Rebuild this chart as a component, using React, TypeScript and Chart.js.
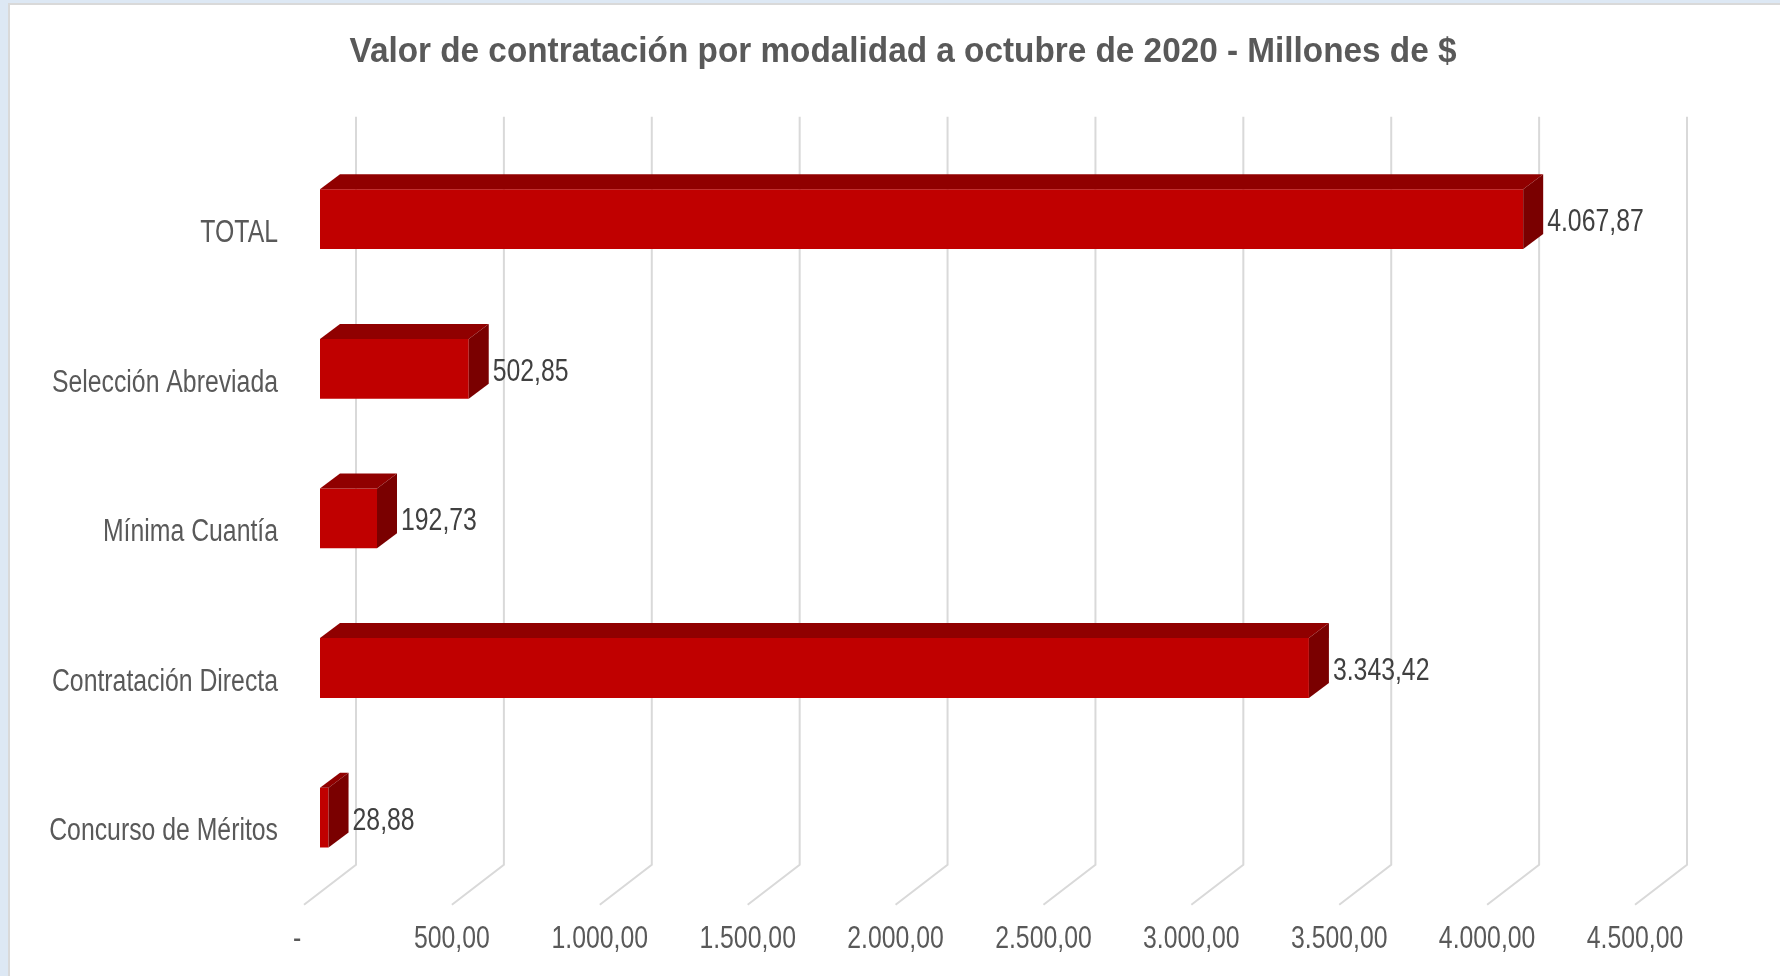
import React, { useEffect, useRef } from "react";
import { Chart, registerables } from "chart.js";

Chart.register(...registerables);

const TITLE = "Valor de contratación por modalidad a octubre de 2020 - Millones de $";
const categories = [
  "TOTAL",
  "Selección Abreviada",
  "Mínima Cuantía",
  "Contratación Directa",
  "Concurso de Méritos",
];
const values = [4067.87, 502.85, 192.73, 3343.42, 28.88];
const tickValues = [0, 500, 1000, 1500, 2000, 2500, 3000, 3500, 4000, 4500];
const tickLabels = [
  "-  ",
  "500,00",
  "1.000,00",
  "1.500,00",
  "2.000,00",
  "2.500,00",
  "3.000,00",
  "3.500,00",
  "4.000,00",
  "4.500,00",
];

const FONT = '"Liberation Sans", Arial, sans-serif';
const NARROW = 0.8; // horizontal squeeze to mimic a narrow typeface
const TEXT_SIZE = 31;
const TITLE_SIZE = 35;
const TITLE_WIDTH = 1107;
const TITLE_CENTER_X = 903;
const TITLE_CENTER_Y = 52;

// oblique depth offsets (pixels)
const DX_BAR = 20;
const DY_BAR = -15;
const DX_BACK = 36;
const DY_BACK = -27.7;
const DX_FRONT = -16;
const DY_FRONT = 12.3;

function fmtEs(v: number): string {
  const fixed = v.toFixed(2);
  const [intPart, dec] = fixed.split(".");
  const grouped = intPart.replace(/\B(?=(\d{3})+(?!\d))/g, ".");
  return grouped + "," + dec;
}

function drawText(
  ctx: CanvasRenderingContext2D,
  text: string,
  x: number,
  y: number,
  align: CanvasTextAlign,
  font: string,
  color: string,
  sx: number
) {
  ctx.save();
  ctx.font = font;
  ctx.fillStyle = color;
  ctx.textAlign = align;
  ctx.textBaseline = "middle";
  ctx.translate(x, y);
  ctx.scale(sx, 1);
  ctx.fillText(text, 0, 0);
  ctx.restore();
}

const threeD = {
  id: "threeD",
  beforeDatasetsDraw(chart: any) {
    const { ctx, chartArea } = chart;
    const x = chart.scales.x;
    ctx.save();
    ctx.strokeStyle = "#d9d9d9";
    ctx.lineWidth = 2;
    for (const v of tickValues) {
      const xf = x.getPixelForValue(v);
      ctx.beginPath();
      ctx.moveTo(xf + DX_BACK, chartArea.top + DY_BACK);
      ctx.lineTo(xf + DX_BACK, chartArea.bottom + DY_BACK);
      ctx.lineTo(xf + DX_FRONT, chartArea.bottom + DY_FRONT);
      ctx.stroke();
    }
    ctx.restore();
  },
  afterDatasetsDraw(chart: any) {
    const { ctx } = chart;
    const meta = chart.getDatasetMeta(0);
    ctx.save();
    meta.data.forEach((bar: any, i: number) => {
      const { x: xr, base, y, height } = bar.getProps(["x", "base", "y", "height"], true);
      const top = y - height / 2;
      const bottom = y + height / 2;
      ctx.fillStyle = "#900000";
      ctx.beginPath();
      ctx.moveTo(base, top);
      ctx.lineTo(base + DX_BAR, top + DY_BAR);
      ctx.lineTo(xr + DX_BAR, top + DY_BAR);
      ctx.lineTo(xr, top);
      ctx.closePath();
      ctx.fill();
      ctx.fillStyle = "#7a0000";
      ctx.beginPath();
      ctx.moveTo(xr, top);
      ctx.lineTo(xr + DX_BAR, top + DY_BAR);
      ctx.lineTo(xr + DX_BAR, bottom + DY_BAR);
      ctx.lineTo(xr, bottom);
      ctx.closePath();
      ctx.fill();
      drawText(ctx, fmtEs(values[i]), xr + 24, y + 3.5, "left", `${TEXT_SIZE}px ${FONT}`, "#404040", NARROW);
    });
    ctx.restore();
  },
  afterDraw(chart: any) {
    const { ctx, chartArea } = chart;
    const xs = chart.scales.x;
    const ys = chart.scales.y;
    const font = `${TEXT_SIZE}px ${FONT}`;
    // category labels (front plane)
    categories.forEach((c, i) => {
      const py = ys.getPixelForValue(i) + DY_FRONT + 2;
      drawText(ctx, c, chartArea.left - 42, py, "right", font, "#595959", NARROW);
    });
    // value axis labels (front floor)
    tickValues.forEach((v, i) => {
      const px = xs.getPixelForValue(v) + DX_FRONT;
      drawText(ctx, tickLabels[i], px, chartArea.bottom + 47.5, "center", font, "#595959", NARROW);
    });
    // title
    const tfont = `bold ${TITLE_SIZE}px ${FONT}`;
    ctx.save();
    ctx.font = tfont;
    const w = ctx.measureText(TITLE).width;
    ctx.restore();
    drawText(ctx, TITLE, TITLE_CENTER_X, TITLE_CENTER_Y, "center", tfont, "#595959", TITLE_WIDTH / w);
  },
};

export default function App() {
  const ref = useRef<HTMLCanvasElement | null>(null);
  useEffect(() => {
    document.body.style.margin = "0";
    const canvas = ref.current;
    if (!canvas) return;
    const chart = new Chart(canvas, {
      type: "bar",
      data: {
        labels: categories,
        datasets: [
          {
            data: values,
            backgroundColor: "#C00000",
            borderWidth: 0,
            barPercentage: 0.4,
            categoryPercentage: 1,
          },
        ],
      },
      options: {
        indexAxis: "y",
        animation: false,
        responsive: false,
        maintainAspectRatio: false,
        devicePixelRatio: 1,
        layout: { padding: { left: 0, right: 129, top: 144.4, bottom: 0 } },
        plugins: {
          legend: { display: false },
          tooltip: { enabled: false },
          title: { display: false },
        },
        scales: {
          x: {
            type: "linear",
            min: 0,
            max: 4500,
            afterBuildTicks: (s: any) => {
              s.ticks = tickValues.map((v) => ({ value: v }));
            },
            grid: { display: false, drawTicks: false },
            border: { display: false },
            ticks: { display: false },
            afterFit: (s: any) => {
              s.height = 83.6;
            },
          },
          y: {
            grid: { display: false, drawTicks: false },
            border: { display: false },
            ticks: { display: false },
            afterFit: (s: any) => {
              s.width = 320;
            },
          },
        },
      },
      plugins: [threeD],
    } as any);
    return () => chart.destroy();
  }, []);

  return (
    <div style={{ position: "relative", width: 1780, height: 976, background: "#dde8f4", overflow: "hidden" }}>
      <div
        style={{
          position: "absolute",
          left: 8,
          top: 3,
          right: 0,
          bottom: 0,
          background: "#ffffff",
          borderLeft: "2px solid #d9d9d9",
          borderTop: "2px solid #d9d9d9",
        }}
      />
      <canvas ref={ref} width={1780} height={976} style={{ position: "absolute", left: 0, top: 0 }} />
    </div>
  );
}
